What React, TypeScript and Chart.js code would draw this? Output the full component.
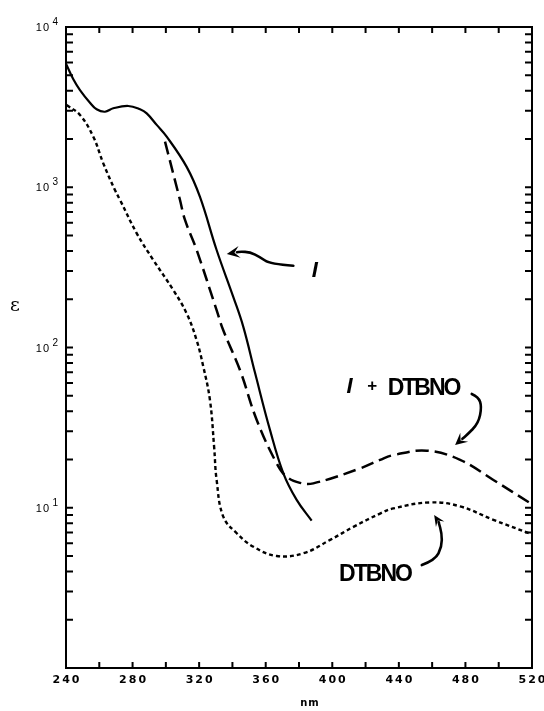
import React, { useEffect, useRef } from 'react';
import { Chart, registerables } from 'chart.js';

Chart.register(...registerables);

// ---- data (wavelength in nm, molar absorptivity ε) ----
const compoundNm = [240, 244.4, 248.4, 254.4, 258.4, 263.4, 268.4, 277.4, 284.5, 288.5, 294.5, 300.5, 312.5, 320.5, 330.5, 340.5, 346.5, 353.5, 362.6, 370.6, 378.6, 387.6];
const compoundEps = [5900, 4720, 4040, 3370, 3065, 2960, 3110, 3215, 3065, 2890, 2450, 2070, 1340, 870, 406, 207, 135, 70, 30.5, 16.4, 11.2, 8.3];

const mixtureNm = [299.5, 308.5, 311.5, 318.5, 330.5, 334.5, 344.6, 354.6, 366.6, 372.6, 380.6, 388.6, 416.7, 428.7, 436.7, 456.8, 476.8, 496.8, 520];
const mixtureEps = [1925, 832, 625, 406, 171, 128, 72, 35.3, 18.9, 15.6, 14.3, 14.2, 17.6, 19.9, 21.3, 22.7, 19.9, 14.9, 10.5];

const dtbnoNm = [240.4, 248.4, 256.4, 262.4, 269.4, 272.5, 282.5, 292.5, 304.5, 312.5, 318.5, 322.5, 326.5, 329, 330.5, 334.5, 342.6, 352.6, 366.6, 382.6, 398.7, 412.7, 428.7, 436.7, 458.8, 476.8, 496.8, 518.8];
const dtbnoEps = [3260, 2825, 2067, 1410, 961, 832, 516, 351, 228, 163, 111, 76, 47, 24, 14.9, 8.8, 6.93, 5.71, 5.0, 5.2, 6.3, 7.6, 9.2, 9.9, 10.8, 10.2, 8.4, 6.9];

// ---- axes ----
const xMin = 240;
const xMax = 520;
const xStep = 20;
const xLabelValues = [240, 280, 320, 360, 400, 440, 480, 520];
const yMin = 1;
const yMax = 10000;
const yDecades = [1, 10, 100, 1000, 10000];
const yMinorMultipliers = [2, 3, 4, 5, 6, 7, 8, 9];
const yLabelDecades = [10, 100, 1000, 10000];
const yLabelExponents = ['1', '2', '3', '4'];
const xAxisTitle = 'nm';
const yAxisTitle = 'ε';

// ---- annotations (in data coordinates) ----
const labelCompound = { text: 'I', nm: 387.6, eps: 275 };
const arrowCompound = [[376.6, 324], [362.6, 332], [356.6, 367], [350.6, 394], [344.6, 396], [336.6, 383]];
const labelMixI = { text: 'I', nm: 408.6, eps: 52 };
const labelMixPlus = { text: '+', nm: 424, eps: 53.5 };
const labelMixName = { text: 'DTBNO', nm: 433.3, eps: 50.5 };
const arrowMixture = [[483.8, 51.3], [487.8, 49.3], [489.8, 42.7], [487.8, 33.6], [480.8, 28.4], [473.8, 24.6]];
const labelDtbno = { text: 'DTBNO', nm: 404.1, eps: 3.49 };
const arrowDtbno = [[453.8, 4.39], [461.8, 4.72], [465.8, 5.71], [465.8, 6.93], [463.8, 8.18], [461.2, 9.0]];

const zip = (xs: number[], ys: number[]) => xs.map((x, i) => ({ x, y: ys[i] }));

function drawArrow(ctx: CanvasRenderingContext2D, pts: { x: number; y: number }[], headLen: number, headW: number) {
  const n = pts.length;
  const tip = pts[n - 1];
  const prev = pts[n - 2];
  const ang = Math.atan2(tip.y - prev.y, tip.x - prev.x);
  const base = { x: tip.x - Math.cos(ang) * headLen * 0.8, y: tip.y - Math.sin(ang) * headLen * 0.8 };
  const path = [...pts.slice(0, n - 1), base];
  ctx.beginPath();
  ctx.moveTo(path[0].x, path[0].y);
  for (let i = 1; i < path.length - 1; i++) {
    const mx = (path[i].x + path[i + 1].x) / 2;
    const my = (path[i].y + path[i + 1].y) / 2;
    ctx.quadraticCurveTo(path[i].x, path[i].y, mx, my);
  }
  ctx.lineTo(base.x, base.y);
  ctx.stroke();
  const bx = tip.x - Math.cos(ang) * headLen;
  const by = tip.y - Math.sin(ang) * headLen;
  const px = -Math.sin(ang) * headW;
  const py = Math.cos(ang) * headW;
  ctx.beginPath();
  ctx.moveTo(tip.x, tip.y);
  ctx.lineTo(bx + px, by + py);
  ctx.lineTo(tip.x - Math.cos(ang) * headLen * 0.6, tip.y - Math.sin(ang) * headLen * 0.6);
  ctx.lineTo(bx - px, by - py);
  ctx.closePath();
  ctx.fill();
}

const decorPlugin = {
  id: 'decor',
  afterDraw(chart: any) {
    const { ctx, chartArea: a, scales } = chart;
    const xs = scales.x;
    const ys = scales.y;
    const P = (nm: number, eps: number) => ({ x: xs.getPixelForValue(nm), y: ys.getPixelForValue(eps) });
    ctx.save();
    ctx.strokeStyle = '#000';
    ctx.fillStyle = '#000';
    ctx.lineWidth = 2;
    ctx.lineCap = 'butt';

    // inward x ticks (bottom & top)
    for (let v = xMin + xStep; v < xMax; v += xStep) {
      const px = xs.getPixelForValue(v);
      ctx.beginPath();
      ctx.moveTo(px, a.bottom);
      ctx.lineTo(px, a.bottom - 6);
      ctx.moveTo(px, a.top);
      ctx.lineTo(px, a.top + 6);
      ctx.stroke();
    }
    // inward y ticks (left & right)
    const yTicks: number[] = [];
    yDecades.forEach((d) => {
      if (d > yMin && d < yMax) yTicks.push(d);
      if (d < yMax) yMinorMultipliers.forEach((m) => yTicks.push(d * m));
    });
    yTicks.forEach((v) => {
      const py = ys.getPixelForValue(v);
      ctx.beginPath();
      ctx.moveTo(a.left, py);
      ctx.lineTo(a.left + 7, py);
      ctx.moveTo(a.right, py);
      ctx.lineTo(a.right - 7, py);
      ctx.stroke();
    });

    // x tick labels
    ctx.font = 'bold 11px "DejaVu Sans"';
    (ctx as any).letterSpacing = '2px';
    ctx.textAlign = 'center';
    ctx.textBaseline = 'alphabetic';
    xLabelValues.forEach((v) => {
      ctx.fillText(String(v), xs.getPixelForValue(v) + 1, a.bottom + 15);
    });

    // y tick labels: 10 with raised exponent
    (ctx as any).letterSpacing = '1px';
    yLabelDecades.forEach((v, i) => {
      const py = ys.getPixelForValue(v);
      ctx.textAlign = 'right';
      ctx.font = '10px "Liberation Sans"';
      ctx.fillText(yLabelExponents[i], a.left - 7, py - 2);
      ctx.font = '11px "Liberation Sans"';
      ctx.fillText('10', a.left - 16, py + 4);
    });

    // axis titles
    (ctx as any).letterSpacing = '1px';
    ctx.textAlign = 'center';
    ctx.font = 'bold 10px "DejaVu Sans"';
    ctx.fillText(xAxisTitle, (a.left + a.right) / 2 + 11, a.bottom + 38);
    (ctx as any).letterSpacing = '0px';
    ctx.font = '19px "DejaVu Serif"';
    ctx.textBaseline = 'middle';
    ctx.fillText(yAxisTitle, 15, 306);

    // annotation labels
    ctx.textBaseline = 'alphabetic';
    ctx.textAlign = 'left';
    ctx.font = 'italic bold 22px "Liberation Sans"';
    let p = P(labelCompound.nm, labelCompound.eps);
    ctx.fillText(labelCompound.text, p.x, p.y);
    p = P(labelMixI.nm, labelMixI.eps);
    ctx.fillText(labelMixI.text, p.x, p.y);
    ctx.font = 'bold 17px "Liberation Sans"';
    ctx.textAlign = 'center';
    p = P(labelMixPlus.nm, labelMixPlus.eps);
    ctx.fillText(labelMixPlus.text, p.x, p.y);
    ctx.textAlign = 'left';
    ctx.font = 'bold 23px "Liberation Sans"';
    (ctx as any).letterSpacing = '-2px';
    p = P(labelMixName.nm, labelMixName.eps);
    ctx.fillText(labelMixName.text, p.x, p.y);
    p = P(labelDtbno.nm, labelDtbno.eps);
    ctx.fillText(labelDtbno.text, p.x, p.y);
    (ctx as any).letterSpacing = '0px';

    // arrows
    ctx.lineWidth = 2.6;
    ctx.lineCap = 'round';
    ctx.lineJoin = 'round';
    drawArrow(ctx, arrowCompound.map(([n, e]) => P(n, e)), 13, 6);
    drawArrow(ctx, arrowMixture.map(([n, e]) => P(n, e)), 12, 6);
    drawArrow(ctx, arrowDtbno.map(([n, e]) => P(n, e)), 11, 5);
    ctx.restore();
  },
};

export default function App() {
  const ref = useRef<HTMLCanvasElement | null>(null);
  useEffect(() => {
    if (!ref.current) return;
    const axisBorder = { display: true, color: '#000', width: 2 };
    const gridOpts = { display: true, drawOnChartArea: false, drawTicks: false };
    const lineCommon = {
      borderColor: '#000',
      pointRadius: 0,
      tension: 0.4,
      fill: false,
      xAxisID: 'x',
      yAxisID: 'y',
    };
    const chart = new Chart(ref.current, {
      type: 'line',
      data: {
        datasets: [
          { ...lineCommon, label: 'I', data: zip(compoundNm, compoundEps), borderWidth: 2.2 },
          { ...lineCommon, label: 'I + DTBNO', data: zip(mixtureNm, mixtureEps), borderWidth: 2.5, borderDash: [13, 6] },
          { ...lineCommon, label: 'DTBNO', data: zip(dtbnoNm, dtbnoEps), borderWidth: 2.4, borderDash: [4, 3] },
        ],
      },
      options: {
        animation: false,
        responsive: false,
        maintainAspectRatio: false,
        layout: { padding: { top: 27, right: 12, left: 0, bottom: 0 } },
        plugins: { legend: { display: false }, tooltip: { enabled: false } },
        scales: {
          x: {
            type: 'linear',
            position: 'bottom',
            min: xMin,
            max: xMax,
            ticks: { display: false, stepSize: xStep },
            grid: gridOpts,
            border: axisBorder,
            afterFit: (s: any) => { s.height = 43; },
          },
          x2: {
            type: 'linear',
            position: 'top',
            min: xMin,
            max: xMax,
            ticks: { display: false },
            grid: gridOpts,
            border: axisBorder,
            afterFit: (s: any) => { s.height = 0; },
          },
          y: {
            type: 'logarithmic',
            position: 'left',
            min: yMin,
            max: yMax,
            ticks: { display: false },
            grid: gridOpts,
            border: axisBorder,
            afterFit: (s: any) => { s.width = 66; },
          },
          y2: {
            type: 'logarithmic',
            position: 'right',
            min: yMin,
            max: yMax,
            ticks: { display: false },
            grid: gridOpts,
            border: axisBorder,
            afterFit: (s: any) => { s.width = 0; },
          },
        },
      } as any,
      plugins: [decorPlugin],
    });
    return () => chart.destroy();
  }, []);
  return (
    <div style={{ position: 'absolute', left: 0, top: 0, width: 544, height: 711, background: '#fff' }}>
      <canvas ref={ref} width={544} height={711} style={{ display: 'block' }} />
    </div>
  );
}
